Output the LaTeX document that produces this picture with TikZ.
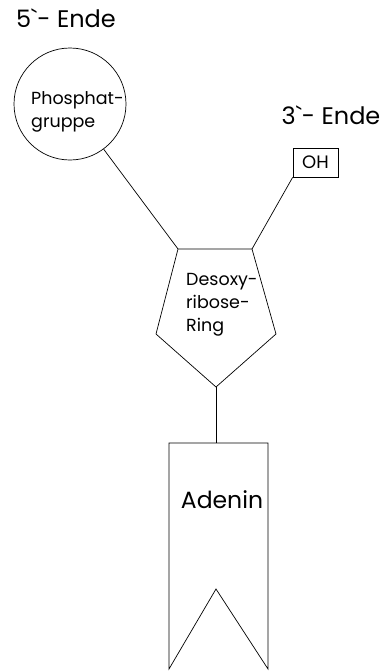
\documentclass[tikz,border=0pt]{standalone}
\usepackage{fontspec}
\setmainfont{Poppins}
\usetikzlibrary{positioning}
\tikzset{
  bond/.style={line width=0.7pt},
  endlbl/.style={font=\fontsize{24}{28}\selectfont, inner sep=0pt},
  txt/.style={font=\fontsize{17.5}{23}\selectfont, inner sep=0pt, align=left},
  base/.style={font=\fontsize{23.5}{28}\selectfont, inner sep=0pt}
}
\begin{document}
\begin{tikzpicture}[x=1pt,y=-1pt]
\useasboundingbox (0,0) rectangle (387,672);

% strand ends
\node[endlbl] (five) at (66,18) {5\textasciigrave- Ende};
\node[endlbl] (three) at (331,115) {3\textasciigrave- Ende};

% phosphate and hydroxyl group
\node[circle, draw, bond, minimum size=112pt] (phos) at (70,104) {};
\node[txt, anchor=west] (phostxt) at (31,112) {Phosphat-\\gruppe};
\node[draw, bond, minimum width=45pt, minimum height=29pt, inner sep=0pt,
  font=\fontsize{18}{20}\selectfont] (oh) at (315.5,162.5) {OH};

% sugar ring
\coordinate (s1) at (178,249);
\coordinate (s2) at (252,249);
\coordinate (s3) at (276,334);
\coordinate (s4) at (216,387);
\coordinate (s5) at (156,334);
\draw[bond] (s1) -- (s2) -- (s3) -- (s4) -- (s5) -- cycle;
\node[txt, anchor=north west] (sugar) at (186,273) {Desoxy-\\ribose-\\Ring};

% base
\coordinate (b1) at (169,443);
\coordinate (b2) at (268,443);
\coordinate (b3) at (268,669);
\coordinate (b4) at (216,589);
\coordinate (b5) at (169,669);
\draw[bond] (b1) -- (b2) -- (b3) -- (b4) -- (b5) -- cycle;
\node[base] (adenin) at (222,500) {Adenin};

% bonds
\draw[bond] (phos) -- (s1);
\draw[bond] (oh.south west) -- (s2);
\draw[bond] (s4) -- (s4 |- b1);
\end{tikzpicture}
\end{document}
